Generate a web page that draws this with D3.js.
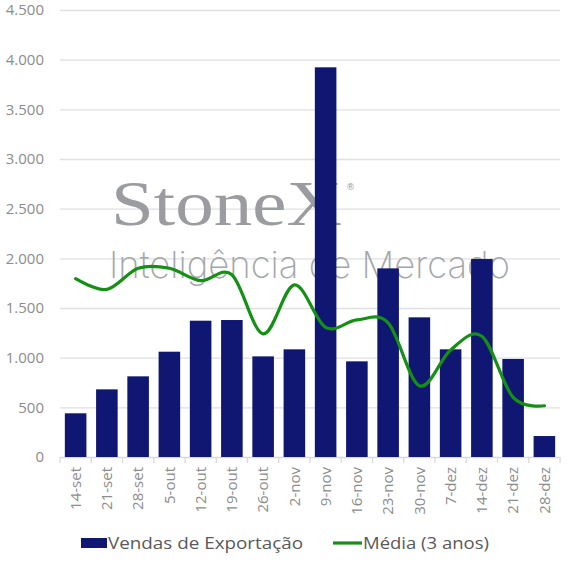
<!DOCTYPE html>
<html lang="pt">
<head>
<meta charset="utf-8">
<title>Vendas de Exportação</title>
<script src="https://cdn.jsdelivr.net/npm/d3@7"></script>
<style>
  body { margin: 0; background: #fff; }
  .axis text { font: 15px "Open Sans", sans-serif; fill: #8c8c8c; }
  .legend text { font: 17px "Open Sans", sans-serif; fill: #595959; }
</style>
</head>
<body>
<svg width="567" height="567"></svg>
<script>
// weeks
var semanas = ["14-set","21-set","28-set","5-out","12-out","19-out","26-out","2-nov",
               "9-nov","16-nov","23-nov","30-nov","7-dez","14-dez","21-dez","28-dez"];
// export sales
var vendas = [440, 681, 812, 1060, 1372, 1379, 1013, 1084,
              3923, 963, 1899, 1406, 1084, 1993, 987, 211];
// 3-year average
var media = [1795, 1688, 1900, 1900, 1775, 1835, 1240, 1732,
             1305, 1380, 1350, 718, 1077, 1215, 600, 516];
var yTicks = [0, 500, 1000, 1500, 2000, 2500, 3000, 3500, 4000, 4500];

var svg = d3.select("svg");
var plotL = 60, plotR = 560, plotT = 10, plotB = 457;

var x = d3.scaleBand().domain(semanas).range([plotL, plotR]).paddingInner(0.31).paddingOuter(0.155);
var xs = d3.scaleBand().domain(semanas).range([plotL, plotR]);
var y = d3.scaleLinear().domain([0, 4500]).range([plotB, plotT]);
var fmt = function(d) { return d3.format(",")(d).replace(/,/g, "."); };

// grid
svg.append("g").selectAll("line").data(yTicks.slice(1)).enter().append("line")
  .attr("x1", plotL).attr("x2", plotR)
  .attr("y1", function(d) { return y(d) + 0.5; }).attr("y2", function(d) { return y(d) + 0.5; })
  .attr("stroke", "#e0e0e0").attr("stroke-width", 1.3);

// watermark
var wm = svg.append("g").attr("fill", "#9a9ca0");
wm.append("text").attr("x", 111).attr("y", 225)
  .attr("textLength", 231).attr("lengthAdjust", "spacingAndGlyphs")
  .style("font", "64px 'Liberation Serif', serif").text("StoneX");
wm.append("text").attr("x", 346).attr("y", 190)
  .style("font", "9px 'DejaVu Sans', sans-serif").text("®");
wm.append("text").attr("x", 109).attr("y", 278)
  .attr("textLength", 401).attr("lengthAdjust", "spacingAndGlyphs")
  .attr("fill", "#a4a6aa")
  .style("font", "200 37px Inter, 'Open Sans', sans-serif").text("Inteligência de Mercado");

// y axis
svg.append("g").attr("class", "axis")
  .attr("transform", "translate(" + plotL + ",0)")
  .call(d3.axisLeft(y).tickValues(yTicks).tickFormat(fmt).tickSize(0).tickPadding(16))
  .call(function(g) { g.select(".domain").remove(); });

// x axis
var xa = svg.append("g").attr("class", "axis")
  .attr("transform", "translate(0," + plotB + ")")
  .call(d3.axisBottom(xs).tickSize(0).tickPadding(0));
xa.select(".domain").attr("stroke", "#d9d9d9").attr("stroke-width", 1.3);
xa.selectAll(".tick text")
  .attr("transform", "rotate(-90)")
  .attr("text-anchor", "end")
  .attr("x", -10).attr("y", 0).attr("dy", "0.35em");
svg.append("g").selectAll("line").data(semanas.concat(["_end"])).enter().append("line")
  .attr("x1", function(d, i) { return plotL + i * xs.bandwidth(); })
  .attr("x2", function(d, i) { return plotL + i * xs.bandwidth(); })
  .attr("y1", plotB).attr("y2", plotB + 6)
  .attr("stroke", "#d9d9d9").attr("stroke-width", 1.3);

// bars
svg.append("g").selectAll("rect").data(vendas).enter().append("rect")
  .attr("x", function(d, i) { return x(semanas[i]); })
  .attr("width", x.bandwidth())
  .attr("y", function(d) { return y(d); })
  .attr("height", function(d) { return plotB - y(d); })
  .attr("fill", "#0f1772");

// average line
var line = d3.line()
  .x(function(d, i) { return xs(semanas[i]) + xs.bandwidth() / 2; })
  .y(function(d) { return y(d); })
  .curve(d3.curveCatmullRom.alpha(0));
svg.append("path").datum(media)
  .attr("d", line).attr("fill", "none")
  .attr("stroke", "#149114").attr("stroke-width", 3.2).attr("stroke-linecap", "round");

// legend
var lg = svg.append("g").attr("class", "legend");
lg.append("rect").attr("x", 81).attr("y", 538).attr("width", 26).attr("height", 10).attr("fill", "#0f1772");
lg.append("text").attr("x", 108).attr("y", 549).attr("textLength", 195).attr("lengthAdjust", "spacingAndGlyphs").text("Vendas de Exportação");
lg.append("line").attr("x1", 333).attr("x2", 362).attr("y1", 543).attr("y2", 543)
  .attr("stroke", "#149114").attr("stroke-width", 3.2);
lg.append("text").attr("x", 363).attr("y", 549).attr("textLength", 126).attr("lengthAdjust", "spacingAndGlyphs").text("Média (3 anos)");
</script>
</body>
</html>
